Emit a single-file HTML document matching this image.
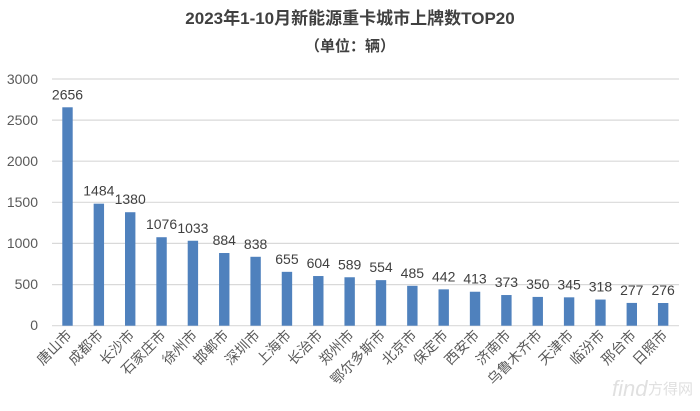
<!DOCTYPE html>
<html><head><meta charset="utf-8"><style>
body{margin:0;background:#fff;width:700px;height:406px;overflow:hidden}
</style></head><body>
<svg width="700" height="406" xmlns="http://www.w3.org/2000/svg" font-family="Liberation Sans, Noto Sans CJK SC, sans-serif">
<text x="350" y="24" text-anchor="middle" font-size="17" font-weight="bold" fill="#404040">2023年1-10月新能源重卡城市上牌数TOP20</text>
<text x="350" y="51" text-anchor="middle" font-size="15" font-weight="bold" fill="#404040">（单位：辆）</text>
<g stroke="#d9d9d9" stroke-width="1.2">
<line x1="52" x2="679" y1="79" y2="79"/><line x1="52" x2="679" y1="120.1" y2="120.1"/><line x1="52" x2="679" y1="161.2" y2="161.2"/><line x1="52" x2="679" y1="202.3" y2="202.3"/><line x1="52" x2="679" y1="243.4" y2="243.4"/><line x1="52" x2="679" y1="284.6" y2="284.6"/><line x1="52" x2="679" y1="325.7" y2="325.7"/>
</g>
<g font-size="14" fill="#595959" text-anchor="end">
<text x="38" y="84">3000</text><text x="38" y="125">2500</text><text x="38" y="166">2000</text><text x="38" y="207">1500</text><text x="38" y="248">1000</text><text x="38" y="289">500</text><text x="38" y="330">0</text>
</g>
<g fill="#4f81bd">
<rect x="62.3" y="107.29" width="10.4" height="218.41"/>
<rect x="93.65" y="203.67" width="10.4" height="122.03"/>
<rect x="125" y="212.22" width="10.4" height="113.48"/>
<rect x="156.35" y="237.22" width="10.4" height="88.48"/>
<rect x="187.7" y="240.75" width="10.4" height="84.95"/>
<rect x="219.05" y="253.01" width="10.4" height="72.69"/>
<rect x="250.4" y="256.79" width="10.4" height="68.91"/>
<rect x="281.75" y="271.84" width="10.4" height="53.86"/>
<rect x="313.1" y="276.03" width="10.4" height="49.67"/>
<rect x="344.45" y="277.26" width="10.4" height="48.44"/>
<rect x="375.8" y="280.14" width="10.4" height="45.56"/>
<rect x="407.15" y="285.82" width="10.4" height="39.88"/>
<rect x="438.5" y="289.35" width="10.4" height="36.35"/>
<rect x="469.85" y="291.74" width="10.4" height="33.96"/>
<rect x="501.2" y="295.03" width="10.4" height="30.67"/>
<rect x="532.55" y="296.92" width="10.4" height="28.78"/>
<rect x="563.9" y="297.33" width="10.4" height="28.37"/>
<rect x="595.25" y="299.55" width="10.4" height="26.15"/>
<rect x="626.6" y="302.92" width="10.4" height="22.78"/>
<rect x="657.95" y="303" width="10.4" height="22.7"/>
</g>
<g font-size="14" fill="#404040" text-anchor="middle">
<text x="67.5" y="99.3">2656</text>
<text x="98.85" y="195.7">1484</text>
<text x="130.2" y="204.2">1380</text>
<text x="161.55" y="229.2">1076</text>
<text x="192.9" y="232.8">1033</text>
<text x="224.25" y="245">884</text>
<text x="255.6" y="248.8">838</text>
<text x="286.95" y="263.8">655</text>
<text x="318.3" y="268">604</text>
<text x="349.65" y="269.3">589</text>
<text x="381" y="272.1">554</text>
<text x="412.35" y="277.8">485</text>
<text x="443.7" y="281.4">442</text>
<text x="475.05" y="283.7">413</text>
<text x="506.4" y="287">373</text>
<text x="537.75" y="288.9">350</text>
<text x="569.1" y="289.3">345</text>
<text x="600.45" y="291.6">318</text>
<text x="631.8" y="294.9">277</text>
<text x="663.15" y="295">276</text>
</g>
<g font-size="14" fill="#595959" text-anchor="end">
<text transform="translate(72.5,336) rotate(-45)">唐山市</text>
<text transform="translate(103.85,336) rotate(-45)">成都市</text>
<text transform="translate(135.2,336) rotate(-45)">长沙市</text>
<text transform="translate(166.55,336) rotate(-45)">石家庄市</text>
<text transform="translate(197.9,336) rotate(-45)">徐州市</text>
<text transform="translate(229.25,336) rotate(-45)">邯郸市</text>
<text transform="translate(260.6,336) rotate(-45)">深圳市</text>
<text transform="translate(291.95,336) rotate(-45)">上海市</text>
<text transform="translate(323.3,336) rotate(-45)">长治市</text>
<text transform="translate(354.65,336) rotate(-45)">郑州市</text>
<text transform="translate(386,336) rotate(-45)">鄂尔多斯市</text>
<text transform="translate(417.35,336) rotate(-45)">北京市</text>
<text transform="translate(448.7,336) rotate(-45)">保定市</text>
<text transform="translate(480.05,336) rotate(-45)">西安市</text>
<text transform="translate(511.4,336) rotate(-45)">济南市</text>
<text transform="translate(542.75,336) rotate(-45)">乌鲁木齐市</text>
<text transform="translate(574.1,336) rotate(-45)">天津市</text>
<text transform="translate(605.45,336) rotate(-45)">临汾市</text>
<text transform="translate(636.8,336) rotate(-45)">邢台市</text>
<text transform="translate(668.15,336) rotate(-45)">日照市</text>
</g>
<text x="612" y="396" font-size="22" fill="#e0e0e0" font-style="italic">find</text>
<text x="648" y="394" font-size="15" fill="#e0e0e0">方得网</text>
</svg>
</body></html>
